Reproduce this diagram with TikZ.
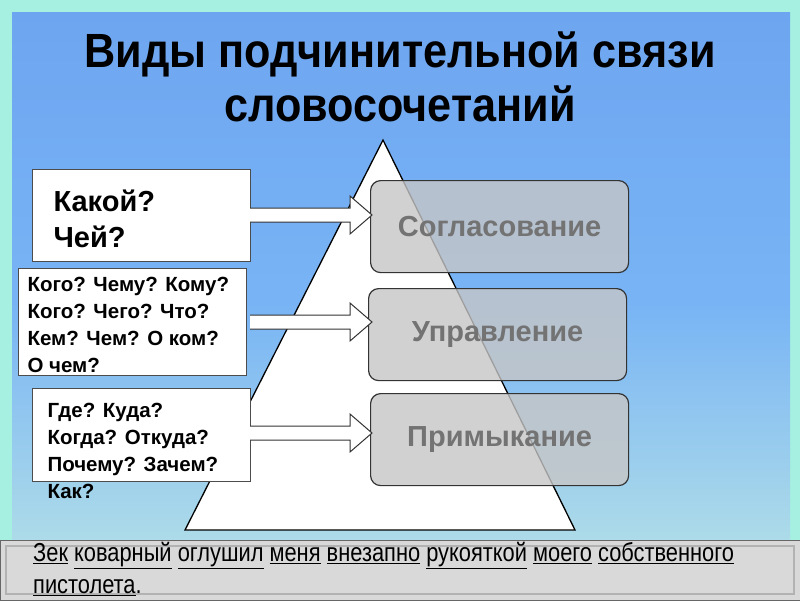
\documentclass[tikz,border=0pt]{standalone}
\usepackage{fontspec}
\setmainfont{Liberation Sans}
\definecolor{aqua}{RGB}{165,240,225}
\begin{document}
\begin{tikzpicture}[x=1pt,y=-1pt,
  qbox/.style={draw=black!70,line width=1pt,fill=white,anchor=north west,inner sep=0pt},
  gbox/.style={draw=black!80,line width=1.2pt,fill=gray!45,fill opacity=0.8,text opacity=1,rounded corners=10pt,minimum width=258pt,minimum height=92pt,anchor=north west,font=\bfseries\fontsize{29}{32}\selectfont,text=black!55},
  barrow/.style={draw=black!80,line width=1pt,fill=white}]
\useasboundingbox (0,0) rectangle (800,600);
\fill[aqua] (0,0) rectangle (800,600);
\shade[top color={rgb,255:red,110;green,165;blue,240}, bottom color={rgb,255:red,185;green,228;blue,230}, middle color={rgb,255:red,120;green,180;blue,245}] (12,12) rectangle (790,595);
\node[font=\bfseries\fontsize{48}{54}\selectfont,xscale=0.9,align=center] (title) at (400,77) {Виды подчинительной связи\\словосочетаний};
\draw[fill=white,line width=1.3pt] (383,140) coordinate (apex) -- (575,530) -- (185,530) -- cycle;
\node[gbox] (g1) at (370,180) {Согласование};
\node[gbox] (g2) at (368,288) {Управление};
\node[gbox] (g3) at (370,393) {Примыкание};
\node[qbox,minimum width=218pt,minimum height=92pt] (q1) at (32,169) {};
\node[anchor=west,font=\bfseries\fontsize{29}{36}\selectfont,align=left] at (50,219) {Какой?\\Чей?};
\node[qbox,minimum width=228pt,minimum height=107pt] (q2) at (18,268) {};
\node[anchor=west,font=\bfseries\fontsize{20.5}{27}\selectfont,align=left] at (24,325) {Кого? Чему? Кому?\\Кого? Чего? Что?\\Кем? Чем? О ком?\\О чем?};
\node[qbox,minimum width=218pt,minimum height=93pt] (q3) at (32,388) {};
\node[anchor=west,font=\bfseries\fontsize{20.5}{27}\selectfont,align=left] at (44,451) {Где? Куда?\\Когда? Откуда?\\Почему? Зачем?\\Как?};
\foreach \y/\a/\b in {215/q1/g1,322/q2/g2,433/q3/g3}{
  \draw[barrow] (250,\y-7) -- (350,\y-7) -- (350,\y-19) -- (372,\y) -- (350,\y+19) -- (350,\y+7) -- (250,\y+7);
}
\draw[draw=black!60,fill=gray!30,line width=1pt] (0,540) rectangle (800,600);
\draw[gray!60,line width=2pt] (6,546) rectangle (794,594);
\node[anchor=north west,align=left,font=\fontsize{26}{32}\selectfont,xscale=0.84,inner sep=0pt] (sent) at (33,542) {\underline{Зек} \underline{коварный} \underline{оглушил} \underline{меня} \underline{внезапно} \underline{рукояткой} \underline{моего} \underline{собственного}\\\underline{пистолета}.};
\end{tikzpicture}
\end{document}
